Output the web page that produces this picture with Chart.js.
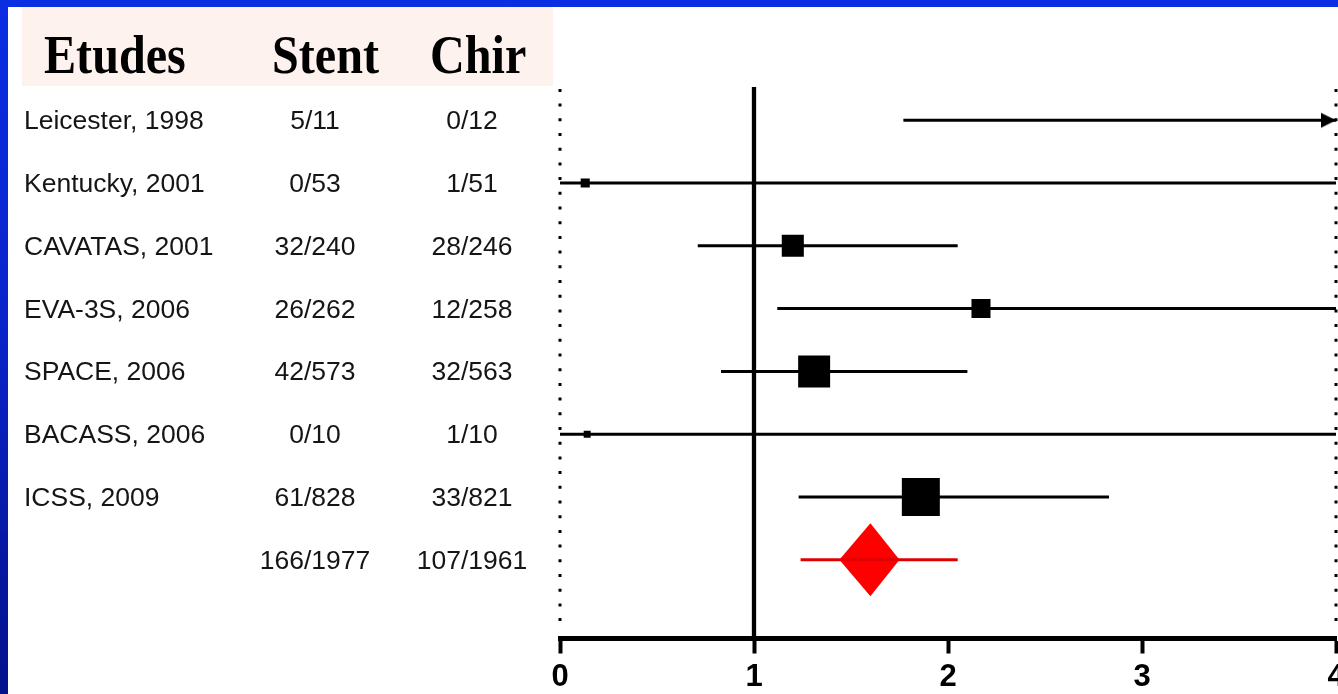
<!DOCTYPE html>
<html><head><meta charset="utf-8">
<script src="https://cdn.jsdelivr.net/npm/chart.js@4.4.1/dist/chart.umd.min.js"></script>
<style>
html,body{margin:0;padding:0;width:1338px;height:694px;overflow:hidden;}
body{position:relative;background:linear-gradient(to bottom,#0a2ee3 0%,#0a24cc 45%,#04128c 100%);}
#panel{position:absolute;left:8px;top:7px;right:0;bottom:0;background:#fff;}
#head{position:absolute;left:22px;top:7px;width:531px;height:79px;background:#fdf2ee;}
.h{position:absolute;top:20px;font-family:"Liberation Serif","Times New Roman",serif;font-weight:bold;font-size:55px;line-height:55px;color:#000;transform:scaleX(0.875);transform-origin:0 0;white-space:nowrap;}
#wrap{position:absolute;left:0;top:0;width:1338px;height:720px;}
.cell{position:absolute;font-family:"Liberation Sans",Arial,sans-serif;font-size:26.5px;line-height:30px;height:30px;color:#151515;white-space:nowrap;}
.ctr{width:200px;text-align:center;}
</style></head>
<body>
<div id="panel"></div>
<div id="head"></div>
<div id="wrap"><canvas id="c" width="1338" height="720"></canvas></div>
<div id="table"></div>
<script>
// ---- data ----
const headers = ["Etudes", "Stent", "Chir"];
const studies = ["Leicester, 1998", "Kentucky, 2001", "CAVATAS, 2001", "EVA-3S, 2006", "SPACE, 2006", "BACASS, 2006", "ICSS, 2009"];
const stentEvents = ["5/11", "0/53", "32/240", "26/262", "42/573", "0/10", "61/828"];
const chirEvents = ["0/12", "1/51", "28/246", "12/258", "32/563", "1/10", "33/821"];
const totalStent = "166/1977";
const totalChir = "107/1961";
const oddsRatio = [12.0, 0.13, 1.20, 2.17, 1.31, 0.14, 1.86];
const ciLow = [1.77, 0.0, 0.71, 1.12, 0.83, 0.0, 1.23];
const ciHigh = [60.0, 25.0, 2.05, 5.5, 2.10, 25.0, 2.83];
const weights = [0, 2.4, 14.1, 10.5, 29.7, 1.4, 41.9];
const pooledOR = 1.60;
const pooledLow = 1.24;
const pooledHigh = 2.05;
const pooledDiamond = [1.44, 1.75];
const xTicks = [0, 1, 2, 3, 4];

// ---- layout / style ----
const xMin = 0, xMax = 4;
const yMin = -0.53, yMax = 8.255;
const pooledRow = studies.length;
const diamondHalfH = 0.58;
const boxScale = 5.87;

// head texts
const headLeft = [22, 250, 408];
const headEl = document.getElementById('head');
headers.forEach((h, i) => {
  const d = document.createElement('div');
  d.className = 'h'; d.textContent = h; d.style.left = headLeft[i] + 'px';
  headEl.appendChild(d);
});

// arrow head image (tip at image centre)
const arrow = document.createElement('canvas');
arrow.width = 34; arrow.height = 18;
(function(){ const c = arrow.getContext('2d'); c.fillStyle = '#000'; c.beginPath();
  c.moveTo(2, 1.5); c.lineTo(17, 9); c.lineTo(2, 16.5); c.closePath(); c.fill(); })();

const datasets = [];
// dotted frame lines at axis bounds
[xMin, xMax].forEach(v => datasets.push({
  data: [{x: v, y: -0.5}, {x: v, y: 8.0}], borderColor: '#000', borderWidth: 3,
  borderDash: [3, 11.7], pointRadius: 0, clip: false
}));
// line of no effect
datasets.push({data: [{x: 1, y: yMin}, {x: 1, y: yMax}], borderColor: '#000', borderWidth: 4.3, pointRadius: 0, clip: false});
// confidence intervals
studies.forEach((s, i) => datasets.push({
  data: [{x: ciLow[i], y: i}, {x: ciHigh[i], y: i}], borderColor: '#000', borderWidth: 3, pointRadius: 0
}));
// boxes
datasets.push({
  data: studies.map((s, i) => ({x: oddsRatio[i], y: i})), showLine: false,
  pointStyle: 'rect', backgroundColor: '#000', borderColor: '#000', pointBorderWidth: 0,
  pointRadius: weights.map(w => w > 0 ? boxScale * Math.sqrt(w) / Math.SQRT2 : 0),
  pointHoverRadius: weights.map(w => w > 0 ? boxScale * Math.sqrt(w) / Math.SQRT2 : 0)
});
// arrows for estimates beyond the axis
datasets.push({
  data: studies.map((s, i) => oddsRatio[i] > xMax ? {x: xMax, y: i} : null).filter(Boolean),
  showLine: false, pointStyle: arrow, clip: false
});
// pooled estimate
datasets.push({data: [{x: pooledLow, y: pooledRow}, {x: pooledHigh, y: pooledRow}], borderColor: '#e00000', borderWidth: 3, pointRadius: 0});
[-1, 1].forEach(sg => datasets.push({
  data: [{x: pooledDiamond[0], y: pooledRow}, {x: pooledOR, y: pooledRow + sg * diamondHalfH}, {x: pooledDiamond[1], y: pooledRow}],
  borderWidth: 0, borderColor: '#ff0000', backgroundColor: '#ff0000', pointRadius: 0,
  fill: {value: pooledRow}, tension: 0
}));

const chart = new Chart(document.getElementById('c'), {
  type: 'line',
  data: {datasets},
  options: {
    responsive: false, animation: false, events: [],
    layout: {autoPadding: false, padding: {left: 560, right: 2, top: 87, bottom: 0}},
    plugins: {legend: {display: false}, tooltip: {enabled: false}},
    scales: {
      x: {
        type: 'linear', min: xMin, max: xMax,
        afterBuildTicks: s => { s.ticks = xTicks.map(v => ({value: v})); },
        afterFit: s => { s.height = 720 - 638.5; s.paddingLeft = 0; s.paddingRight = 0; },
        ticks: {color: '#000', padding: 5, font: {family: '"Liberation Sans", Arial, sans-serif', size: 31, weight: 'bold'}, maxRotation: 0, autoSkip: false},
        grid: {drawOnChartArea: false, drawTicks: true, tickLength: 15, tickWidth: 4, tickColor: '#000', color: '#000'},
        border: {display: true, color: '#000', width: 5}
      },
      y: {type: 'linear', min: yMin, max: yMax, reverse: true, display: false}
    }
  }
});

// table texts aligned to rows through the y scale
const ys = chart.scales.y;
const tbl = document.getElementById('table');
function cell(text, y, left, centred) {
  const d = document.createElement('div');
  d.className = 'cell' + (centred ? ' ctr' : '');
  d.textContent = text;
  d.style.top = (y - 15) + 'px';
  d.style.left = (centred ? left - 100 : left) + 'px';
  tbl.appendChild(d);
}
studies.forEach((s, i) => {
  const y = ys.getPixelForValue(i);
  cell(s, y, 24, false);
  cell(stentEvents[i], y, 315, true);
  cell(chirEvents[i], y, 472, true);
});
const yp = ys.getPixelForValue(pooledRow);
cell(totalStent, yp, 315, true);
cell(totalChir, yp, 472, true);
</script>
</body></html>
